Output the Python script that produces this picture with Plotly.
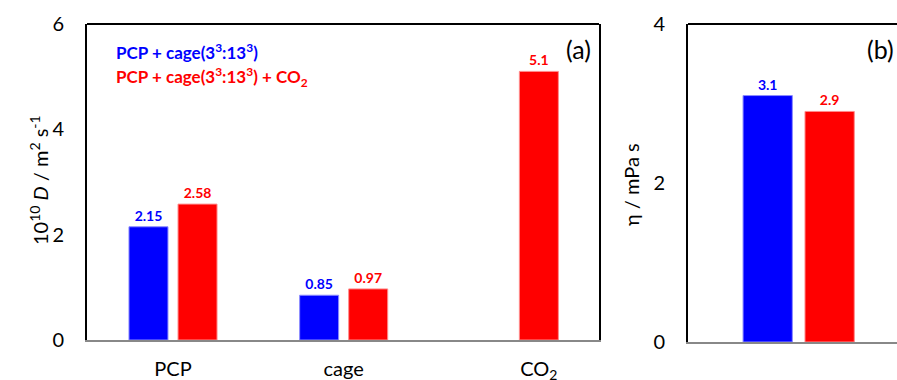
import plotly.graph_objects as go

# Diffusion coefficients, 10^10 D / m^2 s^-1
species = ["PCP", "cage", "CO<sub>2</sub>"]
d_cage = [2.15, 0.85, None]          # PCP + cage(3^3:13^3)
d_cage_co2 = [2.58, 0.97, 5.1]       # PCP + cage(3^3:13^3) + CO2
d_ticks = [0, 2, 4, 6]

# Viscosity, eta / mPa s
eta_cage = [3.1]
eta_cage_co2 = [2.9]
eta_ticks = [0, 2, 4]

series_names = ["PCP + cage(3<sup>3</sup>:13<sup>3</sup>)",
                "PCP + cage(3<sup>3</sup>:13<sup>3</sup>) + CO<sub>2</sub>"]

BLUE = "#0000FF"
RED = "#FF0000"
FONT = "Lato"
W, H = 897, 380

# plot areas in pixels
ax_a = dict(x0=87, x1=599, y0=24, y1=340)
ax_b = dict(x0=688, x1=897, y0=24, y1=342)


def dom_x(a):
    return [a["x0"] / W, a["x1"] / W]


def dom_y(a):
    return [(H - a["y1"]) / H, (H - a["y0"]) / H]


# bar geometry (in category units)
bw_a, off_blue_a, off_red_a = 0.2285, -0.254, 0.0334
bw_b, off_blue_b, off_red_b = 0.222, -0.252, 0.027

xa = list(range(len(species)))

fig = go.Figure()

fig.add_trace(go.Bar(
    x=xa, y=d_cage, width=bw_a, offset=off_blue_a,
    marker=dict(color=BLUE, line=dict(color="#8C8CFF", width=1)),
    text=[None if v is None else f"{v:g}" for v in d_cage],
    textposition="outside", cliponaxis=False,
    textfont=dict(family=FONT, size=14, color=BLUE, weight="bold"),
    xaxis="x", yaxis="y", showlegend=False, name=series_names[0]))
fig.add_trace(go.Bar(
    x=xa, y=d_cage_co2, width=bw_a, offset=off_red_a,
    marker=dict(color=RED, line=dict(color="#FF8C8C", width=1)),
    text=[f"{v:g}" for v in d_cage_co2],
    textposition="outside", cliponaxis=False,
    textfont=dict(family=FONT, size=14, color=RED, weight="bold"),
    xaxis="x", yaxis="y", showlegend=False, name=series_names[1]))

fig.add_trace(go.Bar(
    x=[0], y=eta_cage, width=bw_b, offset=off_blue_b,
    marker=dict(color=BLUE, line=dict(color="#8C8CFF", width=1)),
    text=[f"{v:g}" for v in eta_cage],
    textposition="outside", cliponaxis=False,
    textfont=dict(family=FONT, size=14, color=BLUE, weight="bold"),
    xaxis="x2", yaxis="y2", showlegend=False, name=series_names[0]))
fig.add_trace(go.Bar(
    x=[0], y=eta_cage_co2, width=bw_b, offset=off_red_b,
    marker=dict(color=RED, line=dict(color="#FF8C8C", width=1)),
    text=[f"{v:g}" for v in eta_cage_co2],
    textposition="outside", cliponaxis=False,
    textfont=dict(family=FONT, size=14, color=RED, weight="bold"),
    xaxis="x2", yaxis="y2", showlegend=False, name=series_names[1]))

# category label sits under the middle of the bars that are present
tickpos = []
for i in xa:
    present = []
    if d_cage[i] is not None:
        present.append((i + off_blue_a, i + off_blue_a + bw_a))
    if d_cage_co2[i] is not None:
        present.append((i + off_red_a, i + off_red_a + bw_a))
    lo = min(p[0] for p in present)
    hi = max(p[1] for p in present)
    tickpos.append((lo + hi) / 2)

tickfont = dict(family=FONT, size=20, color="black")
hidden_tick = dict(ticks="outside", ticklen=17, tickcolor="rgba(0,0,0,0)")

# panel (b) is wider than the page; the right part is cut off
b_full_px = 222
b_range = [-0.5, 0.5 - (910 - 897) / b_full_px]

fig.update_layout(
    width=W, height=H,
    margin=dict(l=0, r=0, t=0, b=0, autoexpand=False),
    plot_bgcolor="white", paper_bgcolor="white",
    barmode="overlay",
    font=dict(family=FONT, color="black"),
    xaxis=dict(domain=dom_x(ax_a), range=[-0.5, 2.5], anchor="y",
               tickvals=tickpos, ticktext=species, tickfont=tickfont,
               showline=True, linecolor="#888888", linewidth=2,
               showgrid=False, zeroline=False, automargin=False,
               ticks="outside", ticklen=10, tickcolor="rgba(0,0,0,0)"),
    yaxis=dict(domain=dom_y(ax_a), range=[0, 6], anchor="x",
               tickvals=d_ticks, tickfont=tickfont, automargin=False,
               showline=True, linecolor="black", linewidth=2, mirror=True,
               showgrid=False, zeroline=False, **hidden_tick),
    xaxis2=dict(domain=dom_x(ax_b), range=b_range, anchor="y2",
                showticklabels=False, ticks="", automargin=False,
                showline=True, linecolor="#888888", linewidth=2,
                showgrid=False, zeroline=False),
    yaxis2=dict(domain=dom_y(ax_b), range=[0, 4], anchor="x2",
                tickvals=eta_ticks, tickfont=tickfont, automargin=False,
                showline=True, linecolor="black", linewidth=2,
                showgrid=False, zeroline=False, **hidden_tick),
)

# top frame edges
fig.add_shape(type="line", xref="x domain", yref="y domain",
              x0=0, x1=1, y0=1, y1=1, line=dict(color="black", width=2))
fig.add_shape(type="line", xref="x2 domain", yref="y2 domain",
              x0=0, x1=1, y0=1, y1=1, line=dict(color="black", width=2))

ann = []
# axis titles
ann.append(dict(text="10<sup>10</sup> <i>D</i> / m<sup>2</sup> s<sup>-1</sup>",
                textangle=-90, xref="paper", yref="paper",
                x=24 / W, y=1 - 180 / H, showarrow=False,
                font=dict(family=FONT, size=20)))
ann.append(dict(text="η / mPa s", textangle=-90, xref="paper", yref="paper",
                x=645 / W, y=1 - 185 / H, showarrow=False,
                font=dict(family=FONT, size=20)))
# panel letters
ann.append(dict(text="(a)", xref="paper", yref="paper", x=593 / W, y=1 - 49 / H,
                xanchor="right", yanchor="middle", showarrow=False,
                font=dict(family=FONT, size=25)))
ann.append(dict(text="(b)", xref="paper", yref="paper", x=896 / W, y=1 - 49 / H,
                xanchor="right", yanchor="middle", showarrow=False,
                font=dict(family=FONT, size=25)))
# series key
ann.append(dict(text=f"<b>{series_names[0]}</b>", xref="paper", yref="paper",
                x=114 / W, y=1 - 52 / H, xanchor="left", yanchor="middle",
                showarrow=False, font=dict(family=FONT, size=17, color=BLUE)))
ann.append(dict(text=f"<b>{series_names[1]}</b>", xref="paper", yref="paper",
                x=114 / W, y=1 - 77 / H, xanchor="left", yanchor="middle",
                showarrow=False, font=dict(family=FONT, size=17, color=RED)))
fig.update_layout(annotations=ann)

fig.write_html("out.html")
